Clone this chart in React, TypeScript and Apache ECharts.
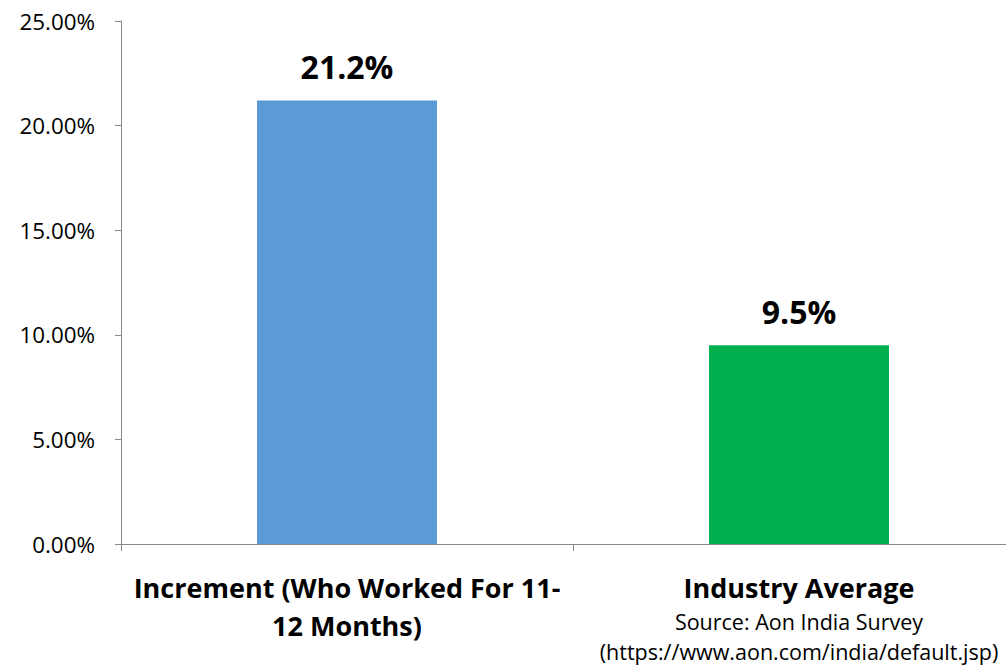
import React, { useEffect, useRef } from "react";
import * as echarts from "echarts";

// Salary increment comparison (percent)
const categories = ["Increment (Who Worked For 11-\n12 Months)", "Industry Average"];
const sourceLines = ["Source: Aon India Survey", "(https://www.aon.com/india/default.jsp)"];
const values = [21.2, 9.5];
const barColors = ["#5B9BD5", "#00B050"];
const yTicks = { min: 0, max: 25, interval: 5 };

const FONT = "'Open Sans', 'Noto Sans', sans-serif";

export default function App() {
  const ref = useRef<HTMLDivElement>(null);

  useEffect(() => {
    if (!ref.current) return;
    const chart = echarts.init(ref.current, null, { renderer: "svg" });
    chart.setOption({
      animation: false,
      backgroundColor: "#ffffff",
      grid: { left: 121, top: 21, width: 904, height: 523, containLabel: false },
      xAxis: {
        type: "category",
        data: categories,
        boundaryGap: true,
        axisLine: { show: true, lineStyle: { color: "#898989", width: 1 } },
        axisTick: { show: true, inside: false, length: 7, lineStyle: { color: "#898989" } },
        axisLabel: {
          interval: 0,
          margin: 24,
          color: "#000",
          fontFamily: FONT,
          formatter: (v: string, i: number) => {
            if (i === 1) {
              return `{b|${v}}\n{s|${sourceLines[0]}}\n{s|${sourceLines[1]}}`;
            }
            return v
              .split("\n")
              .map((l) => `{b|${l}}`)
              .join("\n");
          },
          rich: {
            b: { fontFamily: FONT, fontWeight: "bold", fontSize: 27, lineHeight: 38, color: "#000" },
            s: { fontFamily: FONT, fontSize: 21.5, lineHeight: 30, color: "#000" },
          },
        },
      },
      yAxis: {
        type: "value",
        min: yTicks.min,
        max: yTicks.max,
        interval: yTicks.interval,
        splitLine: { show: false },
        axisLine: { show: true, lineStyle: { color: "#898989", width: 1 } },
        axisTick: { show: true, inside: false, length: 6, lineStyle: { color: "#898989" } },
        axisLabel: {
          margin: 26,
          color: "#000",
          fontFamily: FONT,
          fontSize: 22.4,
          formatter: (v: number) => v.toFixed(2) + "%",
        },
      },
      series: [
        {
          type: "bar",
          barWidth: 180,
          data: values.map((v, i) => ({ value: v, itemStyle: { color: barColors[i] } })),
          label: {
            show: true,
            position: "top",
            distance: 18,
            color: "#000",
            fontFamily: FONT,
            fontWeight: "bold",
            fontSize: 32,
            formatter: (p: any) => p.value.toFixed(1) + "%",
          },
        },
      ],
    });
    return () => chart.dispose();
  }, []);

  return (
    <div
      ref={ref}
      style={{ position: "fixed", left: 0, top: 0, width: 1030, height: 667 }}
    />
  );
}
